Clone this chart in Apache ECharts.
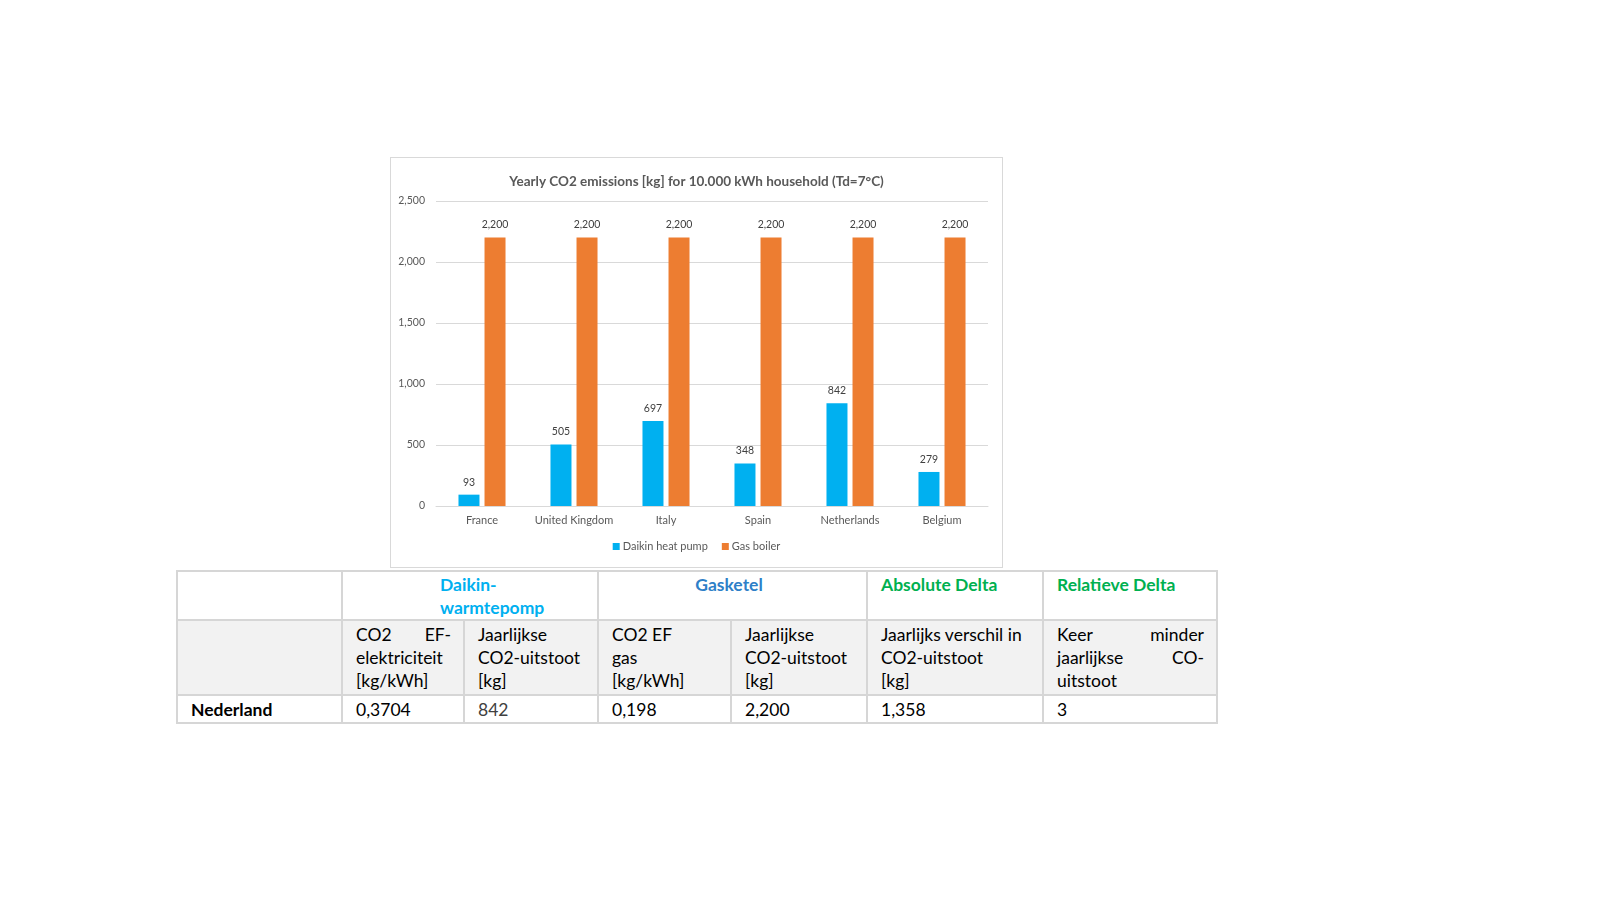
<!DOCTYPE html>
<html>
<head>
<meta charset="utf-8">
<script src="https://cdn.jsdelivr.net/npm/echarts@6/dist/echarts.min.js"></script>
<style>
  html, body { margin:0; padding:0; background:#fff; width:1611px; height:900px; overflow:hidden; }
  #chart { position:absolute; left:390px; top:157px; width:611px; height:409px; border:1px solid #d9d9d9; }
  #tbl { position:absolute; left:176px; top:570px; border-collapse:collapse; font-family:Lato, "Open Sans", sans-serif; font-size:17.5px; color:#000; table-layout:fixed; }
  #tbl td { border:2px solid #d6d6d6; padding:0 12px 0 13px; vertical-align:top; line-height:23px; box-sizing:border-box; }
  #tbl tr.h1 td { height:47px; padding-top:1px; font-weight:bold; }
  #tbl tr.h2 td { height:75px; background:#f2f2f2; padding-top:2px; }
  #tbl tr.d td { height:28px; padding-top:2px; }
  .j { text-align:justify; text-align-last:justify; }
</style>
</head>
<body>
<div id="chart"></div>
<table id="tbl">
  <colgroup>
    <col style="width:165px"><col style="width:122px"><col style="width:134px"><col style="width:133px"><col style="width:136px"><col style="width:176px"><col style="width:174px">
  </colgroup>
  <tbody id="tb"></tbody>
</table>
<script>
// ---- chart data ----
const chartTitle = 'Yearly CO2 emissions [kg] for 10.000 kWh household (Td=7°C)';
const countries = ['France', 'United Kingdom', 'Italy', 'Spain', 'Netherlands', 'Belgium'];
const heatPump = [93, 505, 697, 348, 842, 279];
const gasBoiler = [2200, 2200, 2200, 2200, 2200, 2200];
const seriesNames = ['Daikin heat pump', 'Gas boiler'];

// ---- table data ----
const groupHeaders = ['', 'Daikin-<br>warmtepomp', 'Gasketel', 'Absolute Delta', 'Relatieve Delta'];
const subHeaders = [
  '',
  ['CO2 EF-|j', 'elektriciteit', '[kg/kWh]'],
  ['Jaarlijkse', 'CO2-uitstoot', '[kg]'],
  ['CO2 EF', 'gas', '[kg/kWh]'],
  ['Jaarlijkse', 'CO2-uitstoot', '[kg]'],
  ['Jaarlijks verschil in', 'CO2-uitstoot', '[kg]'],
  ['Keer minder|j', 'jaarlijkse CO-|j', 'uitstoot']
];
const rowLabel = 'Nederland';
const rowValues = ['0,3704', '842', '0,198', '2,200', '1,358', '3'];

// build table
const tb = document.getElementById('tb');
let h = '<tr class="h1"><td></td>'
  + '<td colspan="2" style="color:#00B0F0;padding-left:97px;padding-right:40px">' + groupHeaders[1] + '</td>'
  + '<td colspan="2" style="color:#2E7FC8;text-align:center;padding-right:20px">' + groupHeaders[2] + '</td>'
  + '<td style="color:#00B050">' + groupHeaders[3] + '</td>'
  + '<td style="color:#00B050">' + groupHeaders[4] + '</td></tr>';
h += '<tr class="h2">';
subHeaders.forEach(s => {
  if (!s) { h += '<td></td>'; return; }
  h += '<td>' + s.map(line => {
    const [t, f] = line.split('|');
    return '<div' + (f ? ' class="j"' : '') + '>' + t + '</div>';
  }).join('') + '</td>';
});
h += '</tr><tr class="d"><td style="font-weight:bold">' + rowLabel + '</td>';
rowValues.forEach((v, i) => { h += '<td' + (i === 1 ? ' style="color:#404040"' : '') + '>' + v + '</td>'; });
h += '</tr>';
tb.innerHTML = h;

// chart
const chart = echarts.init(document.getElementById('chart'));
const ff = 'Lato, "Open Sans", sans-serif';
const fmt = v => Number(v).toLocaleString('en-US');
chart.setOption({
  animation: false,
  textStyle: { fontFamily: ff },
  title: {
    text: chartTitle, left: 'center', top: 12,
    textStyle: { fontSize: 13.5, fontWeight: 'bold', color: '#595959', fontFamily: ff }
  },
  legend: {
    data: seriesNames, bottom: 10, left: 'center',
    itemWidth: 7, itemHeight: 7, itemGap: 14, icon: 'rect',
    textStyle: { fontSize: 11, color: '#595959', fontFamily: ff, padding: [0, 0, 0, -2] }
  },
  grid: { left: 45, right: 14, top: 43, bottom: 61 },
  xAxis: {
    type: 'category', data: countries,
    axisLine: { lineStyle: { color: '#d9d9d9' } },
    axisTick: { show: false },
    axisLabel: { color: '#595959', fontSize: 11, margin: 9, interval: 0, fontFamily: ff }
  },
  yAxis: {
    type: 'value', min: 0, max: 2500, interval: 500,
    axisLine: { show: false }, axisTick: { show: false },
    splitLine: { lineStyle: { color: '#d9d9d9' } },
    axisLabel: { color: '#595959', fontSize: 10.5, margin: 11, formatter: fmt, fontFamily: ff }
  },
  series: [
    {
      name: seriesNames[0], type: 'bar', data: heatPump, barWidth: 21, barGap: '24%',
      itemStyle: { color: '#00B0F0' },
      label: { show: true, position: 'top', distance: 7, color: '#404040', fontSize: 10.5, formatter: p => fmt(p.value), fontFamily: ff }
    },
    {
      name: seriesNames[1], type: 'bar', data: gasBoiler, barWidth: 21,
      itemStyle: { color: '#ED7D31' },
      label: { show: true, position: 'top', distance: 7, color: '#404040', fontSize: 10.5, formatter: p => fmt(p.value), fontFamily: ff }
    }
  ]
});
</script>
</body>
</html>
